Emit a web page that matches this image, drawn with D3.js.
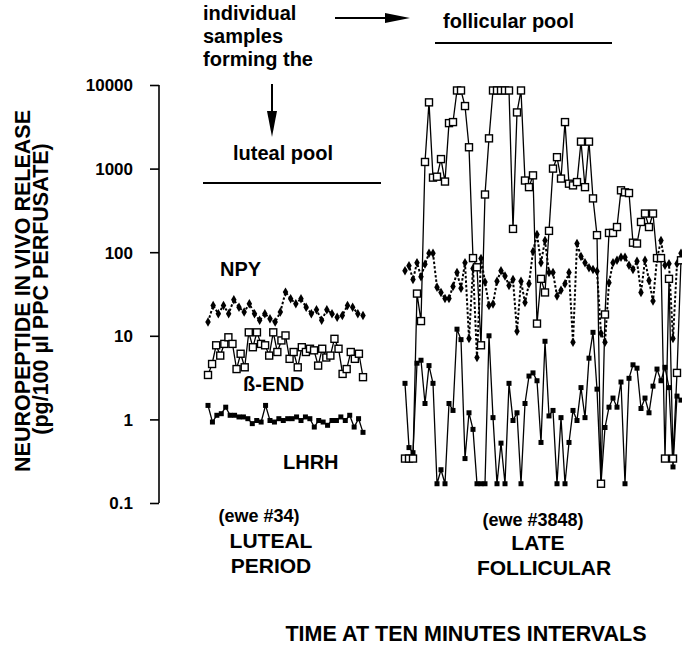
<!DOCTYPE html>
<html>
<head>
<meta charset="utf-8">
<script src="https://cdn.jsdelivr.net/npm/d3@7"></script>
<style>
  body { margin: 0; background: #fff; }
  text { font-family: "Liberation Sans", Arial, Helvetica, sans-serif; font-weight: bold; fill: #000; }
</style>
</head>
<body>
<svg id="chart"></svg>
<script>
// values (pg/100 µl), one entry per 10-min sample
const lutealNPY = [14.6, 23.1, 18.4, 23.1, 18.4, 27, 22, 19.2, 24.2, 18.4, 15.3, 18.4, 16, 14.6, 19.2, 33.3,
    27.7, 24.2, 27.7, 22, 18.4, 20.5, 15.3, 20.5, 18.4, 16.7, 17.5, 23.1, 22, 18.4, 17.5];
const lutealBEND = [3.4, 4.6, 7.7, 5.8, 8.0, 9.6, 8.0, 4.0, 6.1, 4.2, 11.0, 7.3, 11.0, 8.0, 7.7, 5.8, 11.0, 6.4,
    8.8, 10.1, 5.3, 6.4, 4.2, 7.3, 6.4, 7.0, 6.7, 4.4, 7.0, 5.5, 5.8, 9.2, 7.0, 3.5, 4.0, 6.4, 5.3, 6.1, 3.2];
const lutealLHRH = [1.47, 0.93, 1.12, 1.17, 1.40, 1.12, 1.12, 1.07, 1.07, 1.02, 0.89, 0.97, 0.93, 1.47, 0.97,
    0.93, 1.02, 0.97, 1.02, 1.02, 1.07, 0.97, 1.07, 1.02, 0.81, 0.97, 0.93, 0.85, 0.97, 0.97, 1.07, 0.97, 1.12,
    0.81, 1.02, 0.70];

const follNPY = [60, 69, 47, 75, 51, 72, 97, 97, 38, 33, 28, 28, 39, 57, 37, 75, 9.3, 64, 5.5, 84, 44, 23, 24,
    45, 60, 52, 40, 47, 11.3, 45, 25, 42, 102, 163, 75, 138, 57, 57, 30, 35, 42, 57, 8.4, 127, 89, 75, 65, 62, 59,
    10.7, 8.4, 43, 75, 80, 87, 87, 70, 62, 78, 33, 80, 46, 26, 84, 138, 70, 73, 9.3, 73, 97];
const follBEND = [0.34, 0.34, 0.34, 32, 15, 1200, 6200, 780, 800, 1300, 700, 3500, 3600, 8600, 8600, 5600, 1800,
    85, 66, 7.7, 490, 2300, 8600, 8600, 8600, 8600, 8600, 190, 4700, 8600, 720, 600, 830, 14, 48, 33, 180, 1000,
    1370, 760, 3600, 660, 630, 690, 2100, 600, 2100, 440, 160, 0.17, 18, 170, 170, 200, 550, 520, 510, 130, 127,
    230, 290, 200, 290, 85, 85, 0.34, 48, 0.34, 3.6, 80];
const follLHRH = [2.7, 0.46, 0.4, 4.7, 5.1, 1.55, 4.4, 2.7, 0.17, 0.25, 0.17, 1.55, 1.28, 12, 9, 0.34, 1.2, 0.76,
    0.17, 0.17, 0.17, 10, 1.05, 0.17, 0.52, 0.17, 2.7, 0.97, 1.2, 0.17, 1.55, 3.3, 3.6, 2.9, 0.53, 8.6, 1.1, 1.28,
    0.17, 1.05, 0.17, 0.53, 1.28, 0.97, 2.4, 1.05, 5.4, 11, 2.3, 0.17, 0.8, 1.4, 1.8, 1.4, 2.8, 0.17, 3.1, 4.5,
    4.1, 1.35, 1.8, 1.2, 2.5, 4, 2.9, 4.2, 2.4, 0.27, 1.9, 1.7];

const yTicks = [0.1, 1, 10, 100, 1000, 10000];
const yTickLabels = ["0.1", "1", "10", "100", "1000", "10000"];

const width = 682;
const height = 646;

const svg = d3.select("#chart")
    .attr("width", width)
    .attr("height", height);

const y = d3.scaleLog().domain([0.1, 10000]).range([503, 85]);
const xLuteal = n => d3.scaleLinear().domain([0, n - 1]).range([208, 363]);
const xFoll = d3.scaleLinear().domain([0, follBEND.length - 1]).range([405, 681]);

// y axis
const axis = svg.append("g")
    .attr("transform", "translate(159,0)")
    .call(d3.axisLeft(y).tickValues(yTicks).tickSize(9).tickFormat((d, i) => yTickLabels[i]));
axis.select(".domain").attr("stroke", "#000").attr("stroke-width", 1.6).attr("d", `M0,${y(10000)}V${y(0.1)}`);
axis.selectAll(".tick line").attr("stroke", "#000").attr("stroke-width", 1.6);
axis.selectAll(".tick text")
    .attr("x", -26)
    .attr("dy", "0.35em")
    .style("font-size", "17px")
    .style("font-family", "\"Liberation Sans\", Arial, sans-serif")
    .style("font-weight", "bold");

svg.append("text")
    .attr("transform", "translate(30,291) rotate(-90)")
    .attr("text-anchor", "middle")
    .style("font-size", "21.5px")
    .text("NEUROPEPTIDE IN VIVO RELEASE");
svg.append("text")
    .attr("transform", "translate(48,289) rotate(-90)")
    .attr("text-anchor", "middle")
    .style("font-size", "21.5px")
    .text("(pg/100 µl PPC PERFUSATE)");

function drawSeries(values, x, kind) {
    const line = d3.line().x((d, i) => x(i)).y(d => y(d));
    const path = svg.append("path")
        .attr("d", line(values))
        .attr("fill", "none")
        .attr("stroke", "#000");
    if (kind === "npy") {
        path.attr("stroke-width", 2).attr("stroke-dasharray", "2.5,2");
        svg.append("g").selectAll("path")
            .data(values)
            .join("path")
            .attr("transform", (d, i) => `translate(${x(i)},${y(d)})`)
            .attr("d", d3.symbol(d3.symbolDiamond, 26))
            .attr("fill", "#000");
    } else if (kind === "bend") {
        path.attr("stroke-width", 1.3);
        svg.append("g").selectAll("rect")
            .data(values)
            .join("rect")
            .attr("x", (d, i) => x(i) - 3.5)
            .attr("y", d => y(d) - 3.5)
            .attr("width", 7)
            .attr("height", 7)
            .attr("fill", "#fff")
            .attr("stroke", "#000")
            .attr("stroke-width", 1.4);
    } else {
        path.attr("stroke-width", 1.3);
        svg.append("g").selectAll("rect")
            .data(values)
            .join("rect")
            .attr("x", (d, i) => x(i) - 2.5)
            .attr("y", d => y(d) - 2.5)
            .attr("width", 5)
            .attr("height", 5)
            .attr("fill", "#000");
    }
}

drawSeries(lutealLHRH, xLuteal(lutealLHRH.length), "lhrh");
drawSeries(lutealNPY, xLuteal(lutealNPY.length), "npy");
drawSeries(lutealBEND, xLuteal(lutealBEND.length), "bend");

drawSeries(follLHRH, xFoll, "lhrh");
drawSeries(follNPY, xFoll, "npy");
drawSeries(follBEND, xFoll, "bend");

// series labels
svg.append("text").attr("x", 220).attr("y", 276).style("font-size", "20px").text("NPY");
svg.append("text").attr("x", 243).attr("y", 391).style("font-size", "20px").text("ß-END");
svg.append("text").attr("x", 283).attr("y", 469).style("font-size", "20px").text("LHRH");

// annotations on top
const notes = ["individual", "samples", "forming the"];
notes.forEach((t, i) => {
    svg.append("text").attr("x", 203).attr("y", 20 + i * 23).style("font-size", "20px").text(t);
});

svg.append("line").attr("x1", 335).attr("x2", 390).attr("y1", 18).attr("y2", 18)
    .attr("stroke", "#000").attr("stroke-width", 2);
svg.append("path").attr("d", "M385,13L410,18L385,23Z").attr("fill", "#000");

svg.append("line").attr("x1", 272).attr("x2", 272).attr("y1", 84).attr("y2", 115)
    .attr("stroke", "#000").attr("stroke-width", 2);
svg.append("path").attr("d", "M267,111L272,137L277,111Z").attr("fill", "#000");

svg.append("text").attr("x", 443).attr("y", 28).style("font-size", "20px").text("follicular pool");
svg.append("line").attr("x1", 435).attr("x2", 612).attr("y1", 43).attr("y2", 43)
    .attr("stroke", "#000").attr("stroke-width", 2);

svg.append("text").attr("x", 233).attr("y", 160).style("font-size", "20px").text("luteal pool");
svg.append("line").attr("x1", 203).attr("x2", 381).attr("y1", 183).attr("y2", 183)
    .attr("stroke", "#000").attr("stroke-width", 2);

// period labels
svg.append("text").attr("x", 259).attr("y", 522).attr("text-anchor", "middle").style("font-size", "18px").text("(ewe #34)");
svg.append("text").attr("x", 271).attr("y", 548).attr("text-anchor", "middle").style("font-size", "21px").text("LUTEAL");
svg.append("text").attr("x", 271).attr("y", 573).attr("text-anchor", "middle").style("font-size", "21px").text("PERIOD");

svg.append("text").attr("x", 533).attr("y", 526).attr("text-anchor", "middle").style("font-size", "18px").text("(ewe #3848)");
svg.append("text").attr("x", 538).attr("y", 550).attr("text-anchor", "middle").style("font-size", "21px").text("LATE");
svg.append("text").attr("x", 544).attr("y", 575).attr("text-anchor", "middle").style("font-size", "21px").text("FOLLICULAR");

svg.append("text").attr("x", 466).attr("y", 641).attr("text-anchor", "middle").style("font-size", "21.5px")
    .text("TIME AT TEN MINUTES INTERVALS");
</script>
</body>
</html>
